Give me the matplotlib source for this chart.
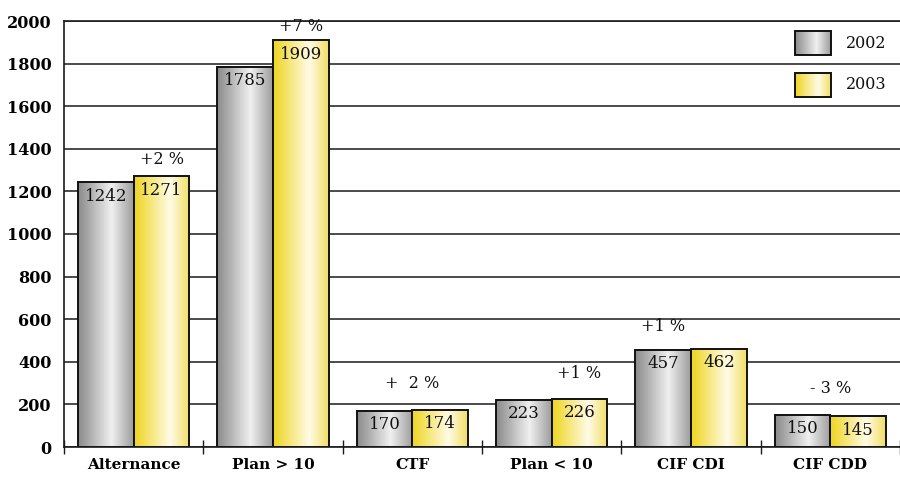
"""
Bar chart: 2002 vs 2003 counts per category with year-on-year change.
"""

import numpy as np
import matplotlib
matplotlib.use("Agg")
import matplotlib.pyplot as plt
from matplotlib.colors import LinearSegmentedColormap
from matplotlib.patches import Rectangle

# ---------------------------------------------------------------------------
# Data
# ---------------------------------------------------------------------------
CATEGORIES = ["Alternance", "Plan > 10", "CTF", "Plan < 10", "CIF CDI", "CIF CDD"]
VALUES_2002 = [1242, 1785, 170, 223, 457, 150]
VALUES_2003 = [1271, 1909, 174, 226, 462, 145]
CHANGE_LABELS = ["+2 %", "+7 %", "+  2 %", "+1 %", "+1 %", "- 3 %"]
YEARS = ["2002", "2003"]
Y_TICKS = list(range(0, 2001, 200))

# label placement: x offset (category units), y offset above tallest bar (points)
CHANGE_X_OFFSET = [0.2, 0.2, 0.0, 0.2, -0.2, 0.0]
CHANGE_Y_OFFSET = [12, 10, 19, 18, 16, 19]

BAR_W = 0.4
FONT = "DejaVu Serif"

gray_cmap = LinearSegmentedColormap.from_list(
    "gray_bar", [(0.0, "#8a8a8a"), (0.6, "#f0f0f0"), (1.0, "#9c9c9c")])
yellow_cmap = LinearSegmentedColormap.from_list(
    "yellow_bar", [(0.0, "#eed51e"), (0.65, "#fffbe6"), (1.0, "#f1de62")])
GRADIENT = np.linspace(0, 1, 256).reshape(1, -1)


def gradient_rect(ax, x0, y0, w, h, cmap, z=2):
    """Horizontally shaded rectangle with a dark outline."""
    ax.imshow(GRADIENT, cmap=cmap, extent=(x0, x0 + w, y0, y0 + h),
              aspect="auto", interpolation="bilinear", zorder=z)
    ax.add_patch(Rectangle((x0, y0), w, h, fill=False, edgecolor="#111111",
                           linewidth=1.4, zorder=z + 0.1))


fig = plt.figure(figsize=(9, 4.78), dpi=100)
ax = fig.add_axes([64 / 900, 31 / 478, 836 / 900, 426 / 478])

x = np.arange(len(CATEGORIES))
for i in x:
    gradient_rect(ax, i - BAR_W, 0, BAR_W, VALUES_2002[i], gray_cmap)
    gradient_rect(ax, i, 0, BAR_W, VALUES_2003[i], yellow_cmap)

    for xc, v in [(i - BAR_W / 2, VALUES_2002[i]), (i + BAR_W / 2, VALUES_2003[i])]:
        ax.annotate(str(v), (xc, v), xytext=(0, -10), textcoords="offset points",
                    ha="center", va="center", fontsize=12, family=FONT,
                    color="#111111", zorder=5)

    top = max(VALUES_2002[i], VALUES_2003[i])
    ax.annotate(CHANGE_LABELS[i], (i + CHANGE_X_OFFSET[i], top),
                xytext=(0, CHANGE_Y_OFFSET[i]), textcoords="offset points",
                ha="center", va="center", fontsize=11.5, family=FONT,
                color="#111111", zorder=5)

# legend drawn inside the plot, over the gridlines
leg_cmaps = [gray_cmap, yellow_cmap]
leg_y = [1840, 1645]
for name, cm, y0 in zip(YEARS, leg_cmaps, leg_y):
    gradient_rect(ax, 4.75, y0, 0.255, 113, cm, z=4)
    ax.text(5.11, y0 + 56, name, ha="left", va="center", fontsize=11.5,
            family=FONT, color="#111111", zorder=5)

ax.set_xlim(-0.5, 5.45)
ax.set_ylim(0, 2000)
ax.set_yticks(Y_TICKS)
ax.set_yticklabels([str(t) for t in Y_TICKS], fontsize=11.5,
                   fontweight="bold", family=FONT)
ax.yaxis.grid(True, color="#1a1a1a", linewidth=1.1, zorder=0)
ax.set_axisbelow(True)
ax.tick_params(axis="y", length=0, pad=9)

# category boundaries get the ticks, names sit centred below each group
ax.set_xticks(np.arange(-0.5, len(CATEGORIES), 1.0))
ax.set_xticklabels([])
ax.set_xticks(x, minor=True)
ax.set_xticklabels(CATEGORIES, minor=True, fontsize=11, fontweight="bold",
                   family=FONT)
ax.tick_params(axis="x", which="major", direction="inout", length=10,
               width=1, color="#1a1a1a")
ax.tick_params(axis="x", which="minor", length=0, pad=8)

for side in ["left", "bottom", "top"]:
    ax.spines[side].set_color("#1a1a1a")
    ax.spines[side].set_linewidth(1.2)
ax.spines["right"].set_visible(False)

fig.savefig("out.png", dpi=100)
